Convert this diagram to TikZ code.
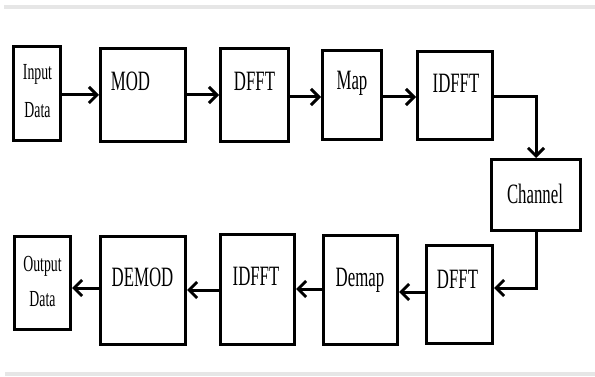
\documentclass[tikz,border=0pt]{standalone}
\usepackage{fontspec}
\setmainfont{Liberation Serif}
\usetikzlibrary{arrows.meta}
\newcommand\narrowtext[1]{\scalebox{0.6}[1]{#1}}
\definecolor{rulegray}{HTML}{E6E6E6}
\begin{document}
\begin{tikzpicture}[x=1pt,y=-1pt,
  blk/.style={draw=black, line width=3pt, fill=white, inner sep=0pt},
  lbl/.style={anchor=base, inner sep=0pt, font=\fontsize{28}{30}\selectfont},
  slbl/.style={anchor=base, inner sep=0pt, font=\fontsize{23}{25}\selectfont},
  arr/.style={line width=3pt, -{Straight Barb[length=8pt,width=16pt]}}]
\useasboundingbox (0,0) rectangle (595,377);

% thin grey rules above and below the chart
\draw[rulegray, line width=4pt] (4,7) -- (595,7);
\draw[rulegray, line width=4pt] (5,374) -- (595,374);

% transmitter row
\node[blk, minimum width=47pt, minimum height=94pt] (in)    at (37,93.5)  {};
\node[blk, minimum width=85pt, minimum height=93pt] (mod)   at (143,95)   {};
\node[blk, minimum width=68pt, minimum height=93pt] (dfft)  at (254.5,95) {};
\node[blk, minimum width=59pt, minimum height=89pt] (map)   at (352,95)   {};
\node[blk, minimum width=75pt, minimum height=88pt] (idfft) at (455,95.5) {};

% channel
\node[blk, minimum width=89pt, minimum height=71pt] (chan)  at (536,195)  {};

% receiver row
\node[blk, minimum width=66pt, minimum height=98pt]  (dfftr)  at (459.5,294.5) {};
\node[blk, minimum width=74pt, minimum height=109pt] (demap)  at (360.5,290)   {};
\node[blk, minimum width=74pt, minimum height=110pt] (idfftr) at (257.5,289.5) {};
\node[blk, minimum width=85pt, minimum height=108pt] (demod)  at (143,290.5)   {};
\node[blk, minimum width=56pt, minimum height=93pt]  (out)    at (42.5,283)    {};

% block labels
\node[slbl] (tin1)  at (37.5,80)  {\narrowtext{Input}};
\node[slbl] (tin2)  at (37.5,118) {\narrowtext{Data}};
\node[lbl]  (tmod)  at (130.5,91) {\narrowtext{MOD}};
\node[lbl]  (tdfft) at (254.5,91) {\narrowtext{DFFT}};
\node[lbl]  (tmap)  at (352,90)   {\narrowtext{Map}};
\node[lbl]  (tidf)  at (456,93)   {\narrowtext{IDFFT}};
\node[lbl]  (tchan) at (535,204)  {\narrowtext{Channel}};
\node[lbl]  (tdfr)  at (457.5,288) {\narrowtext{DFFT}};
\node[lbl]  (tdem)  at (360,286)  {\narrowtext{Demap}};
\node[lbl]  (tidr)  at (256,285)  {\narrowtext{IDFFT}};
\node[lbl]  (tdmod) at (142.5,287) {\narrowtext{DEMOD}};
\node[slbl] (tout1) at (42.5,271) {\narrowtext{Output}};
\node[slbl] (tout2) at (42.5,306) {\narrowtext{Data}};

% levels of the connectors
\coordinate (ra) at (0,95);
\coordinate (rb) at (0,97);
\coordinate (rc) at (0,288);
\coordinate (rd) at (0,292);
\coordinate (re) at (0,289);
\coordinate (rf) at (0,290);

% connectors
\draw[arr] (in.east |- ra)    -- (mod.west |- ra);
\draw[arr] (mod.east |- ra)   -- (dfft.west |- ra);
\draw[arr] (dfft.east |- rb)  -- (map.west |- rb);
\draw[arr] (map.east |- rb)   -- (idfft.west |- rb);
\draw[arr] (idfft.east |- rb) -| (chan.north);
\draw[arr] (chan.south)       |- (dfftr.east |- rc);
\draw[arr] (dfftr.west |- rd) -- (demap.east |- rd);
\draw[arr] (demap.west |- re) -- (idfftr.east |- re);
\draw[arr] (idfftr.west |- rf) -- (demod.east |- rf);
\draw[arr] (demod.west |- rc) -- (out.east |- rc);
\end{tikzpicture}
\end{document}
